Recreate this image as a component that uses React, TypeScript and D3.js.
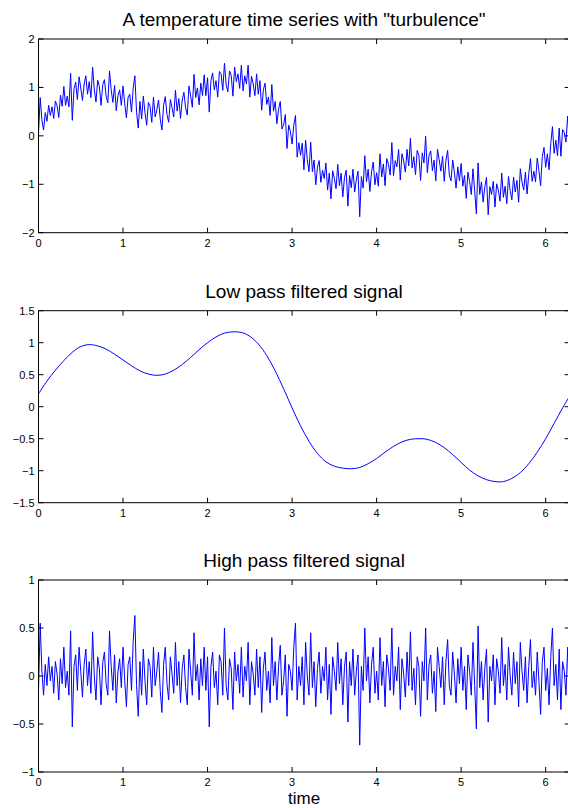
import React from 'react';
import * as d3 from 'd3';

// ---------- data ----------
const SAMPLE_STEP = 0.02; // time step of raw & high-pass samples
const LOW_STEP = 0.1; // time step of low-pass samples
const X_TICKS = [0, 1, 2, 3, 4, 5, 6];
const TOP_Y_TICKS = [-2, -1, 0, 1, 2];
const MID_Y_TICKS = [-1.5, -1, -0.5, 0, 0.5, 1, 1.5];
const BOT_Y_TICKS = [-1, -0.5, 0, 0.5, 1];
const TITLE_TOP = 'A temperature time series with "turbulence"';
const TITLE_MID = 'Low pass filtered signal';
const TITLE_BOT = 'High pass filtered signal';
const X_LABEL = 'time';

const TEMPERATURE = [
  0.05, 0.79, 0.33, 0.12, 0.48, 0.30, 0.63, 0.42, 0.60, 0.36,
  0.72, 0.62, 0.38, 0.84, 0.61, 1.02, 0.63, 0.82, 0.60, 1.29,
  0.32, 0.97, 1.11, 0.75, 1.22, 0.99, 0.73, 1.07, 1.24, 0.86,
  1.12, 0.79, 1.42, 0.96, 0.70, 1.15, 1.02, 0.63, 1.06, 1.16,
  0.82, 0.68, 1.34, 0.95, 0.69, 1.04, 0.52, 0.83, 0.95, 0.63,
  1.03, 0.66, 0.37, 0.80, 0.86, 0.49, 0.98, 1.24, 0.49, 0.16,
  0.71, 0.35, 0.82, 0.48, 0.22, 0.69, 0.61, 0.28, 0.80, 0.39,
  0.54, 0.74, 0.35, 0.12, 0.63, 0.81, 0.44, 0.28, 0.75, 0.58,
  0.39, 0.94, 0.51, 0.77, 0.36, 0.74, 0.90, 0.58, 0.43, 1.03,
  0.82, 0.59, 1.27, 0.79, 0.99, 0.64, 1.09, 0.83, 1.26, 0.83,
  1.20, 0.49, 1.14, 1.30, 0.95, 1.14, 0.80, 1.33, 1.28, 0.94,
  1.50, 1.05, 0.91, 1.34, 1.25, 0.82, 1.42, 1.12, 1.28, 0.98,
  1.46, 0.93, 1.24, 1.07, 1.46, 0.80, 1.23, 1.07, 0.83, 1.28,
  0.86, 1.14, 0.53, 0.95, 1.09, 0.65, 0.80, 0.42, 1.06, 0.51,
  0.71, 0.25, 0.55, 0.71, 0.14, 0.23, 0.44, -0.26, 0.22, 0.09,
  -0.17, 0.22, 0.42, -0.44, -0.14, -0.40, -0.15, -0.70, -0.09, -0.49,
  -0.74, -0.13, -0.74, -0.50, -1.01, -0.65, -0.51, -0.96, -0.71, -0.88,
  -0.56, -1.12, -0.77, -1.30, -0.72, -0.88, -1.09, -0.59, -1.03, -0.77,
  -1.26, -0.86, -0.71, -1.45, -0.82, -1.07, -0.69, -1.16, -0.91, -0.73,
  -1.67, -0.84, -1.08, -0.41, -0.95, -0.69, -1.15, -0.74, -0.54, -1.01,
  -0.76, -1.04, -0.37, -0.85, -0.58, -1.03, -0.47, -0.59, -0.81, -0.14,
  -0.82, -0.51, -0.64, -0.28, -0.91, -0.37, -0.52, -0.75, -0.28, -0.62,
  -0.05, -0.66, -0.43, -0.80, -0.30, -0.40, -0.92, -0.35, -0.56, -0.01,
  -0.76, -0.40, -0.31, -0.72, -0.50, -0.93, -0.28, -0.49, -0.73, -0.42,
  -0.94, -0.51, -0.30, -0.81, -0.93, -0.50, -0.75, -1.08, -0.64, -0.93,
  -0.57, -1.04, -0.82, -1.29, -0.75, -0.94, -1.21, -0.68, -1.14, -1.61,
  -0.56, -1.21, -0.95, -1.37, -1.05, -0.86, -1.63, -1.05, -1.21, -0.94,
  -1.47, -0.99, -1.12, -1.35, -0.77, -1.27, -1.04, -1.40, -0.84, -1.13,
  -1.32, -0.85, -1.16, -0.92, -1.37, -0.68, -0.95, -1.12, -0.75, -1.20,
  -0.79, -0.47, -0.94, -0.73, -0.95, -0.46, -0.72, -1.03, -0.43, -0.24,
  -0.65, -0.37, -0.70, -0.16, 0.19, -0.36, -0.09, -0.41, 0.16, -0.42,
  0.13, 0.07, -0.13, 0.41, -0.14,
];

const LOW_PASS = [
  0.20, 0.40, 0.57, 0.72, 0.85, 0.94, 0.97, 0.95, 0.90, 0.82,
  0.73, 0.64, 0.56, 0.51, 0.49, 0.51, 0.57, 0.66, 0.77, 0.89,
  1.00, 1.09, 1.15, 1.17, 1.16, 1.10, 0.98, 0.80, 0.56, 0.28,
  -0.02, -0.30, -0.54, -0.73, -0.86, -0.93, -0.96, -0.97, -0.95, -0.89,
  -0.81, -0.71, -0.62, -0.55, -0.51, -0.50, -0.51, -0.56, -0.64, -0.75,
  -0.87, -0.99, -1.08, -1.14, -1.17, -1.17, -1.12, -1.03, -0.89, -0.71,
  -0.50, -0.26, -0.02, 0.20,
];

const HIGH_PASS = [
  -0.15, 0.55, 0.05, -0.2, 0.12, -0.1, 0.2, -0.05, 0.1, -0.18,
  0.15, 0.02, -0.25, 0.18, -0.08, 0.3, -0.12, 0.05, -0.2, 0.47,
  -0.53, 0.1, 0.22, -0.15, 0.3, 0.05, -0.22, 0.12, 0.28, -0.1,
  0.15, -0.18, 0.46, 0.0, -0.25, 0.2, 0.08, -0.3, 0.14, 0.25,
  -0.08, -0.2, 0.47, 0.1, -0.15, 0.22, -0.28, 0.05, 0.18, -0.12,
  0.3, -0.05, -0.32, 0.12, 0.2, -0.15, 0.36, 0.63, -0.1, -0.42,
  0.15, -0.2, 0.28, -0.05, -0.3, 0.18, 0.1, -0.22, 0.3, -0.1,
  0.05, 0.25, -0.15, -0.38, 0.12, 0.3, -0.08, -0.25, 0.2, 0.02,
  -0.18, 0.35, -0.1, 0.15, -0.28, 0.08, 0.22, -0.12, -0.3, 0.28,
  0.05, -0.2, 0.45, -0.05, 0.12, -0.25, 0.18, -0.1, 0.3, -0.15,
  0.2, -0.53, 0.1, 0.25, -0.12, 0.05, -0.3, 0.22, 0.15, -0.2,
  0.5, -0.1, -0.25, 0.18, 0.08, -0.35, 0.25, -0.05, 0.12, -0.18,
  0.3, -0.22, 0.1, -0.05, 0.35, -0.3, 0.15, 0.02, -0.2, 0.28,
  -0.12, 0.2, -0.38, 0.08, 0.25, -0.15, 0.05, -0.28, 0.4, -0.1,
  0.15, -0.25, 0.1, 0.32, -0.2, -0.05, 0.22, -0.42, 0.12, 0.05,
  -0.15, 0.3, 0.55, -0.25, 0.1, -0.1, 0.2, -0.3, 0.35, 0.0,
  -0.2, 0.45, -0.12, 0.15, -0.32, 0.08, 0.25, -0.18, 0.1, -0.05,
  0.3, -0.25, 0.12, -0.4, 0.2, 0.05, -0.15, 0.35, -0.08, 0.18,
  -0.3, 0.1, 0.25, -0.48, 0.15, -0.1, 0.28, -0.2, 0.05, 0.22,
  -0.72, 0.1, -0.15, 0.5, -0.05, 0.2, -0.28, 0.12, 0.3, -0.18,
  0.05, -0.25, 0.4, -0.1, 0.15, -0.32, 0.22, 0.08, -0.15, 0.5,
  -0.2, 0.1, -0.05, 0.3, -0.35, 0.18, 0.02, -0.22, 0.25, -0.1,
  0.46, -0.15, 0.08, -0.3, 0.2, 0.1, -0.42, 0.15, -0.05, 0.5,
  -0.25, 0.12, 0.22, -0.18, 0.05, -0.37, 0.3, 0.1, -0.12, 0.2,
  -0.3, 0.15, 0.38, -0.1, -0.2, 0.25, 0.02, -0.28, 0.18, -0.08,
  0.3, -0.15, 0.1, -0.35, 0.22, 0.05, -0.2, 0.35, -0.1, -0.55,
  0.52, -0.12, 0.15, -0.25, 0.08, 0.28, -0.48, 0.1, -0.05, 0.22,
  -0.3, 0.18, 0.05, -0.18, 0.4, -0.1, 0.12, -0.25, 0.3, 0.0,
  -0.2, 0.25, -0.08, 0.15, -0.32, 0.35, 0.05, -0.15, 0.2, -0.28,
  0.1, 0.38, -0.12, 0.05, -0.2, 0.25, -0.05, -0.4, 0.15, 0.3,
  -0.15, 0.08, -0.3, 0.2, 0.5, -0.1, 0.12, -0.25, 0.28, -0.35,
  0.15, 0.05, -0.2, 0.3, -0.3,
];

// ---------- layout ----------
const W = 568;
const H = 808;
const X_LEFT = 38.5;
const X_PER_UNIT = 84.53;
const FONT = '"Liberation Sans", Arial, Helvetica, sans-serif';
const TICK_LEN = 5;

type Panel = {
  id: string;
  top: number;
  bottom: number;
  domain: [number, number];
  ticks: number[];
  title: string;
  values: number[];
  step: number;
  smooth: boolean;
};

const PANELS: Panel[] = [
  { id: 'p1', top: 39, bottom: 232.7, domain: [-2, 2], ticks: TOP_Y_TICKS, title: TITLE_TOP, values: TEMPERATURE, step: SAMPLE_STEP, smooth: false },
  { id: 'p2', top: 310.7, bottom: 502.7, domain: [-1.5, 1.5], ticks: MID_Y_TICKS, title: TITLE_MID, values: LOW_PASS, step: LOW_STEP, smooth: true },
  { id: 'p3', top: 580, bottom: 772, domain: [-1, 1], ticks: BOT_Y_TICKS, title: TITLE_BOT, values: HIGH_PASS, step: SAMPLE_STEP, smooth: false },
];

const fmt = (v: number) => (v < 0 ? '\u2212' : '') + String(Math.abs(v));

const x = d3.scaleLinear().domain([0, 2 * Math.PI]).range([X_LEFT, X_LEFT + 2 * Math.PI * X_PER_UNIT]);

function PanelView({ p }: { p: Panel }) {
  const y = d3.scaleLinear().domain(p.domain).range([p.bottom, p.top]);
  const [x0, x1] = x.range();
  const line = d3
    .line<number>()
    .x((_, i) => x(i * p.step))
    .y((d) => y(d))
    .curve(p.smooth ? d3.curveCatmullRom : d3.curveLinear);
  return (
    <g>
      <defs>
        <clipPath id={`clip-${p.id}`}>
          <rect x={x0} y={p.top} width={x1 - x0} height={p.bottom - p.top} />
        </clipPath>
      </defs>
      <path d={line(p.values) || ''} fill="none" stroke="#0000ff" strokeWidth={1} clipPath={`url(#clip-${p.id})`} />
      <rect x={x0} y={p.top} width={x1 - x0} height={p.bottom - p.top} fill="none" stroke="#000" strokeWidth={1} />
      {X_TICKS.map((t) => (
        <g key={`x${t}`}>
          <line x1={x(t)} x2={x(t)} y1={p.bottom} y2={p.bottom - TICK_LEN} stroke="#000" />
          <line x1={x(t)} x2={x(t)} y1={p.top} y2={p.top + TICK_LEN} stroke="#000" />
          <text x={x(t)} y={p.bottom + 14} textAnchor="middle" fontSize={11} fontFamily={FONT} fill="#000">
            {fmt(t)}
          </text>
        </g>
      ))}
      {p.ticks.map((t) => (
        <g key={`y${t}`}>
          <line x1={x0} x2={x0 + TICK_LEN} y1={y(t)} y2={y(t)} stroke="#000" />
          <line x1={x1} x2={x1 - TICK_LEN} y1={y(t)} y2={y(t)} stroke="#000" />
          <text x={x0 - 4} y={y(t) + 4} textAnchor="end" fontSize={11} fontFamily={FONT} fill="#000">
            {fmt(t)}
          </text>
        </g>
      ))}
      <text x={(x0 + x1) / 2} y={p.top - 13} textAnchor="middle" fontSize={19} fontFamily={FONT} fill="#000">
        {p.title}
      </text>
    </g>
  );
}

export default function App() {
  const [x0, x1] = x.range();
  return (
    <svg width={W} height={H} style={{ position: 'absolute', left: 0, top: 0, background: '#fff' }}>
      <rect x={0} y={0} width={W} height={H} fill="#fff" />
      {PANELS.map((p) => (
        <PanelView key={p.id} p={p} />
      ))}
      <text x={(x0 + x1) / 2} y={804} textAnchor="middle" fontSize={17} fontFamily={FONT} fill="#000">
        {X_LABEL}
      </text>
    </svg>
  );
}
